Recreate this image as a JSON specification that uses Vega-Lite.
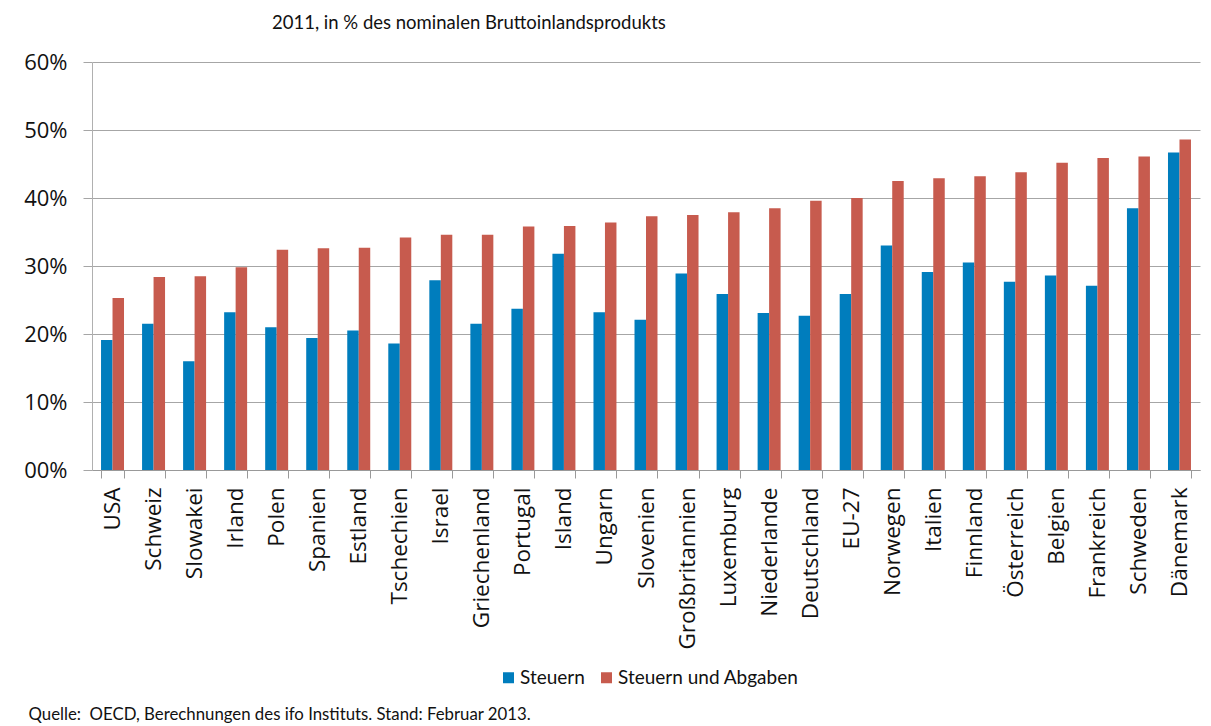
{
  "$schema": "https://vega.github.io/schema/vega-lite/v6.json",
  "width": 1108,
  "height": 408,
  "autosize": {"type": "none"},
  "padding": {"left": 92, "top": 62, "right": 11, "bottom": 256},
  "background": "white",
  "title": {
    "text": "2011, in % des nominalen Bruttoinlandsprodukts",
    "anchor": "start",
    "frame": "group",
    "dx": 180,
    "offset": 19,
    "font": "Lato",
    "fontSize": 18.5,
    "fontWeight": "normal",
    "color": "#111111"
  },
  "data": {
    "values": [
      {"Land": "USA", "Reihe": "Steuern", "Wert": 19.1},
      {"Land": "USA", "Reihe": "Steuern und Abgaben", "Wert": 25.3},
      {"Land": "Schweiz", "Reihe": "Steuern", "Wert": 21.5},
      {"Land": "Schweiz", "Reihe": "Steuern und Abgaben", "Wert": 28.4},
      {"Land": "Slowakei", "Reihe": "Steuern", "Wert": 16.0},
      {"Land": "Slowakei", "Reihe": "Steuern und Abgaben", "Wert": 28.5},
      {"Land": "Irland", "Reihe": "Steuern", "Wert": 23.2},
      {"Land": "Irland", "Reihe": "Steuern und Abgaben", "Wert": 29.8},
      {"Land": "Polen", "Reihe": "Steuern", "Wert": 21.0},
      {"Land": "Polen", "Reihe": "Steuern und Abgaben", "Wert": 32.4},
      {"Land": "Spanien", "Reihe": "Steuern", "Wert": 19.4},
      {"Land": "Spanien", "Reihe": "Steuern und Abgaben", "Wert": 32.6},
      {"Land": "Estland", "Reihe": "Steuern", "Wert": 20.5},
      {"Land": "Estland", "Reihe": "Steuern und Abgaben", "Wert": 32.7},
      {"Land": "Tschechien", "Reihe": "Steuern", "Wert": 18.6},
      {"Land": "Tschechien", "Reihe": "Steuern und Abgaben", "Wert": 34.2},
      {"Land": "Israel", "Reihe": "Steuern", "Wert": 27.9},
      {"Land": "Israel", "Reihe": "Steuern und Abgaben", "Wert": 34.6},
      {"Land": "Griechenland", "Reihe": "Steuern", "Wert": 21.5},
      {"Land": "Griechenland", "Reihe": "Steuern und Abgaben", "Wert": 34.6},
      {"Land": "Portugal", "Reihe": "Steuern", "Wert": 23.7},
      {"Land": "Portugal", "Reihe": "Steuern und Abgaben", "Wert": 35.8},
      {"Land": "Island", "Reihe": "Steuern", "Wert": 31.8},
      {"Land": "Island", "Reihe": "Steuern und Abgaben", "Wert": 35.9},
      {"Land": "Ungarn", "Reihe": "Steuern", "Wert": 23.2},
      {"Land": "Ungarn", "Reihe": "Steuern und Abgaben", "Wert": 36.4},
      {"Land": "Slovenien", "Reihe": "Steuern", "Wert": 22.1},
      {"Land": "Slovenien", "Reihe": "Steuern und Abgaben", "Wert": 37.3},
      {"Land": "Großbritannien", "Reihe": "Steuern", "Wert": 28.9},
      {"Land": "Großbritannien", "Reihe": "Steuern und Abgaben", "Wert": 37.5},
      {"Land": "Luxemburg", "Reihe": "Steuern", "Wert": 25.9},
      {"Land": "Luxemburg", "Reihe": "Steuern und Abgaben", "Wert": 37.9},
      {"Land": "Niederlande", "Reihe": "Steuern", "Wert": 23.1},
      {"Land": "Niederlande", "Reihe": "Steuern und Abgaben", "Wert": 38.5},
      {"Land": "Deutschland", "Reihe": "Steuern", "Wert": 22.7},
      {"Land": "Deutschland", "Reihe": "Steuern und Abgaben", "Wert": 39.6},
      {"Land": "EU-27", "Reihe": "Steuern", "Wert": 25.9},
      {"Land": "EU-27", "Reihe": "Steuern und Abgaben", "Wert": 40.0},
      {"Land": "Norwegen", "Reihe": "Steuern", "Wert": 33.0},
      {"Land": "Norwegen", "Reihe": "Steuern und Abgaben", "Wert": 42.5},
      {"Land": "Italien", "Reihe": "Steuern", "Wert": 29.1},
      {"Land": "Italien", "Reihe": "Steuern und Abgaben", "Wert": 42.9},
      {"Land": "Finnland", "Reihe": "Steuern", "Wert": 30.5},
      {"Land": "Finnland", "Reihe": "Steuern und Abgaben", "Wert": 43.2},
      {"Land": "Österreich", "Reihe": "Steuern", "Wert": 27.7},
      {"Land": "Österreich", "Reihe": "Steuern und Abgaben", "Wert": 43.8},
      {"Land": "Belgien", "Reihe": "Steuern", "Wert": 28.6},
      {"Land": "Belgien", "Reihe": "Steuern und Abgaben", "Wert": 45.2},
      {"Land": "Frankreich", "Reihe": "Steuern", "Wert": 27.1},
      {"Land": "Frankreich", "Reihe": "Steuern und Abgaben", "Wert": 45.9},
      {"Land": "Schweden", "Reihe": "Steuern", "Wert": 38.5},
      {"Land": "Schweden", "Reihe": "Steuern und Abgaben", "Wert": 46.1},
      {"Land": "Dänemark", "Reihe": "Steuern", "Wert": 46.7},
      {"Land": "Dänemark", "Reihe": "Steuern und Abgaben", "Wert": 48.6}
    ]
  },
  "mark": {"type": "bar"},
  "encoding": {
    "x": {
      "field": "Land",
      "type": "nominal",
      "sort": null,
      "scale": {"paddingInner": 0.44, "paddingOuter": 0.22},
      "axis": {
        "title": "Quelle: \u00a0OECD, Berechnungen des ifo Instituts. Stand: Februar 2013.",
        "titleFont": "Lato",
        "titleFontSize": 16.8,
        "titleFontWeight": "normal",
        "titleColor": "#111111",
        "titleAnchor": "start",
        "titleAlign": "left",
        "titleBaseline": "middle",
        "titleX": -64,
        "titleY": 244,
        "titleLimit": 800,
        "labelAngle": -90,
        "labelAlign": "right",
        "labelBaseline": "middle",
        "labelFont": "Open Sans",
        "labelFontSize": 22.5,
        "labelColor": "#111111",
        "labelPadding": 9,
        "labelLimit": 300,
        "tickBand": "extent",
        "tickSize": 8,
        "tickColor": "#999999",
        "domainColor": "#999999",
        "grid": false
      }
    },
    "xOffset": {"field": "Reihe", "type": "nominal", "scale": {"paddingInner": 0, "paddingOuter": 0}},
    "y": {
      "field": "Wert",
      "type": "quantitative",
      "scale": {"domain": [0, 60], "nice": false},
      "axis": {
        "title": null,
        "values": [0, 10, 20, 30, 40, 50, 60],
        "labelExpr": "datum.value == 0 ? '00%' : datum.value + '%'",
        "labelFont": "Open Sans",
        "labelFontSize": 22,
        "labelColor": "#111111",
        "labelPadding": 16,
        "tickSize": 9,
        "tickColor": "#a6a6a6",
        "domainColor": "#b0b0b0",
        "gridColor": "#a6a6a6",
        "gridWidth": 1
      }
    },
    "color": {
      "field": "Reihe",
      "type": "nominal",
      "scale": {"domain": ["Steuern", "Steuern und Abgaben"], "range": ["#007dbd", "#c75b4e"]},
      "legend": {
        "title": null,
        "orient": "none",
        "direction": "horizontal",
        "legendX": 407,
        "legendY": 606,
        "symbolType": "square",
        "symbolSize": 121,
        "symbolStrokeWidth": 0,
        "labelFont": "Lato",
        "labelFontSize": 19,
        "labelColor": "#111111",
        "labelLimit": 400,
        "columnPadding": 12,
        "labelOffset": 2
      }
    }
  },
  "config": {
    "view": {"stroke": null},
    "axis": {"gridOpacity": 1}
  }
}
